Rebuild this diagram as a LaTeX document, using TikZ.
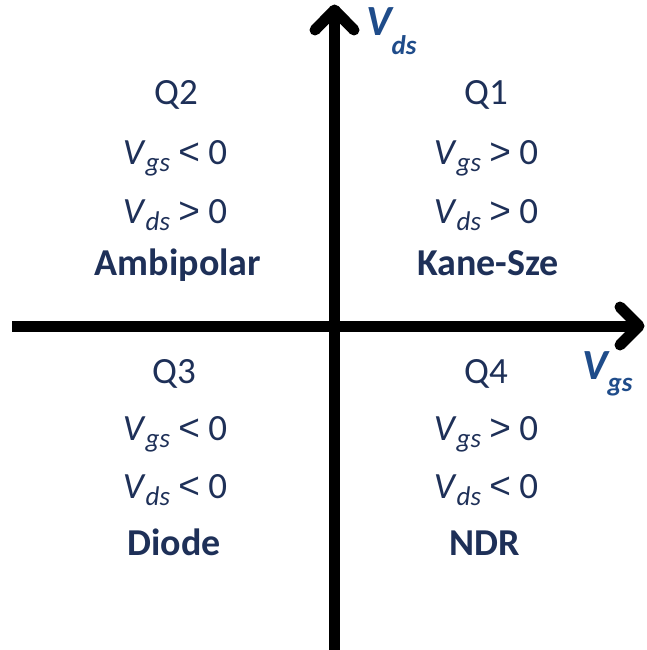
\documentclass[tikz,border=0pt]{standalone}
\usepackage{fontspec}
\setmainfont{Carlito}
\newfontfamily\relfont{Liberation Sans}
\definecolor{quadtext}{RGB}{30,48,88}
\definecolor{axislabel}{RGB}{31,76,138}
\newcommand{\vsub}[1]{\textit{V}\raisebox{-7pt}{\fontsize{27}{28}\selectfont\itshape #1}}
\newcommand{\rel}[1]{{\relfont\fontsize{37}{40}\selectfont #1}}
\begin{document}
\begin{tikzpicture}[x=1pt,y=-1pt,line cap=round,line join=round,
    quad/.style={text=quadtext,font=\fontsize{37}{40}\selectfont,anchor=base,inner sep=0pt},
    quadname/.style={quad,font=\fontsize{38}{40}\selectfont\bfseries},
    axlabel/.style={text=axislabel,font=\fontsize{43}{45}\selectfont\bfseries\itshape,anchor=base west,inner sep=0pt}]
  \useasboundingbox (0,0) rectangle (646,650);
  % axes
  \draw[line width=11pt,line cap=butt] (334.5,652) -- (334.5,10);
  \draw[line width=11pt] (315,30) -- (334.5,10) -- (354,30);
  \draw[line width=11pt,line cap=butt] (12,326) -- (638,326);
  \draw[line width=11pt] (620,307) -- (639,326) -- (620,345);
  \node[axlabel] (vds) at (366,36) {V\raisebox{-19pt}{\fontsize{27}{28}\selectfont ds}};
  \node[axlabel] (vgs) at (582,379) {V\raisebox{-12pt}{\fontsize{27}{28}\selectfont gs}};
  % Q1
  \node[quad] (q1) at (486,105) {Q1};
  \node[quad] (q1gs) at (486,164) {\vsub{gs} \rel{>} 0};
  \node[quad] (q1ds) at (486,223) {\vsub{ds} \rel{>} 0};
  \node[quadname] (q1name) at (488,275) {Kane-Sze};
  % Q2
  \node[quad] (q2) at (176,105) {Q2};
  \node[quad] (q2gs) at (175,164) {\vsub{gs} \rel{<} 0};
  \node[quad] (q2ds) at (175,223) {\vsub{ds} \rel{>} 0};
  \node[quadname] (q2name) at (178,275) {Ambipolar};
  % Q3
  \node[quad] (q3) at (174,383) {Q3};
  \node[quad] (q3gs) at (175,440) {\vsub{gs} \rel{<} 0};
  \node[quad] (q3ds) at (175,498) {\vsub{ds} \rel{<} 0};
  \node[quadname] (q3name) at (174,555) {Diode};
  % Q4
  \node[quad] (q4) at (486,383) {Q4};
  \node[quad] (q4gs) at (486,440) {\vsub{gs} \rel{>} 0};
  \node[quad] (q4ds) at (486,498) {\vsub{ds} \rel{<} 0};
  \node[quadname] (q4name) at (485,555) {NDR};
\end{tikzpicture}
\end{document}
